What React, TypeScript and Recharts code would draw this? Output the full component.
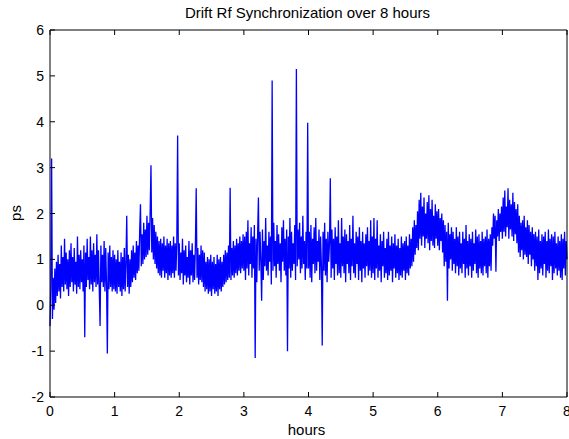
import { LineChart, Line, XAxis, YAxis } from "recharts";

// drift samples, 80 per hour (every 45 s), in ps
const hour0 = [
  -0.45, 0.4, 3.2, -0.3, 0.6, -0.1, 0.8, 0.05, 0.95, 0.2,
  1.1, 0.3, 0.9, 0.15, 1.3, 0.4, 1.05, 0.3, 1.45, 0.45,
  1.15, 0.35, 1.0, 0.2, 1.2, 0.4, 1.35, 0.5, 1.05, 0.3,
  1.25, 0.45, 0.95, 0.25, 1.5, 0.4, 1.1, 0.35, 1.2, 0.5,
  1.0, 0.3, 1.3, -0.7, 1.15, 0.4, 1.45, 0.55, 1.05, 0.35,
  1.5, 0.45, 1.2, 0.3, 1.35, 0.5, 1.1, 0.4, 1.55, 0.45,
  1.2, 0.35, -0.45, 1.3, 0.5, 1.1, 0.4, 1.4, 0.3, 1.25,
  0.45, -1.05, 1.15, 0.35, 1.3, 0.4, 1.05, 0.3, 1.2, 0.35,
];
const hour1 = [
  1.1, 0.3, 1.0, 0.25, 1.2, 0.4, 0.95, 0.3, 1.15, 0.2,
  1.05, 0.35, 1.25, 0.3, 0.9, 1.95, 0.4, 1.1, 0.25, 1.0,
  0.4, 1.2, 0.5, 1.3, 0.6, 1.15, 0.55, 1.4, 0.7, 1.3,
  0.75, 1.6, 2.2, 0.85, 1.55, 0.9, 1.8, 1.0, 1.65, 1.05,
  1.95, 1.1, 1.8, 1.2, 2.05, 3.05, 1.15, 1.9, 1.0, 1.75,
  0.9, 1.6, 0.8, 1.5, 0.7, 1.4, 0.65, 1.45, 0.6, 1.35,
  0.75, 1.5, 0.6, 1.3, 0.7, 1.45, 0.55, 1.35, 0.65, 1.4,
  0.6, 1.3, 0.7, 1.5, 0.6, 1.35, 0.75, 1.4, 3.7, 0.65,
];
const hour2 = [
  1.35, 0.55, 1.15, 0.7, 1.45, 0.45, 1.2, 0.65, 1.3, 0.5,
  1.05, 0.6, 1.4, 0.45, 1.2, 0.65, 1.35, 0.5, 1.1, 0.55,
  1.3, 2.55, 0.6, 1.25, 0.45, 1.1, 0.55, 1.3, 0.5, 1.2,
  0.4, 1.15, 0.3, 0.95, 0.35, 1.05, 0.25, 1.0, 0.3, 1.1,
  0.2, 0.95, 0.35, 1.05, 0.25, 0.9, 0.3, 1.1, 0.2, 1.0,
  0.35, 1.05, 0.3, 0.95, 0.4, 1.1, 0.45, 1.2, 0.5, 1.15,
  0.55, 1.3, 0.6, 2.56, 0.55, 1.25, 0.65, 1.4, 0.6, 1.3,
  0.7, 1.45, 0.65, 1.35, 0.75, 1.5, 0.7, 1.4, 0.8, 1.55,
];
const hour3 = [
  0.75, 1.5, 0.55, 1.6, 0.8, 1.85, 0.65, 1.35, 0.9, 1.7,
  0.6, 1.5, 0.8, 1.75, -1.15, 1.45, 0.5, 1.55, 2.35, 0.75,
  1.6, 0.95, 0.1, 1.65, 0.55, 1.4, 0.85, 1.9, 0.75, 1.3,
  0.65, 1.6, 0.95, 1.5, 0.45, 4.9, 0.75, 1.8, 0.85, 1.4,
  0.6, 1.75, 0.9, 1.55, 0.75, 1.35, 0.5, 1.7, 0.95, 1.85,
  0.75, 1.45, 0.65, 1.65, -1.0, 1.5, 0.8, 1.9, 0.6, 1.6,
  0.75, 1.35, 0.9, 1.75, 0.55, 5.15, 0.85, 1.65, 1.0, 1.8,
  0.7, 1.5, 0.8, 1.95, 0.9, 1.4, 0.55, 1.6, 0.8, 3.98,
];
const hour4 = [
  0.8, 1.6, 0.6, 1.75, 0.5, 1.45, 0.9, 1.7, 0.7, 1.9,
  0.75, 1.4, 0.95, 1.65, 0.55, 1.5, 0.85, -0.88, 1.6, 0.75,
  1.8, 0.65, 1.45, 0.5, 1.6, 0.95, 1.35, 2.77, 0.6, 1.65,
  0.8, 1.45, 0.55, 1.7, 0.9, 1.5, 0.65, 1.85, 0.7, 1.35,
  0.6, 1.9, 0.85, 1.5, 0.7, 1.65, 0.5, 1.55, 0.9, 1.4,
  0.7, 1.75, 0.55, 1.45, 0.85, 1.95, 0.7, 1.35, 0.6, 1.6,
  0.9, 1.5, 0.55, 1.7, 0.75, 1.4, 0.5, 1.6, 0.8, 1.35,
  0.6, 1.55, 0.85, 1.7, 0.65, 1.4, 0.75, 1.85, 0.6, 1.5,
];
const hour5 = [
  0.7, 1.9, 0.55, 1.45, 0.8, 1.85, 0.6, 1.3, 0.75, 1.55,
  0.5, 1.4, 0.85, 1.6, 0.6, 1.25, 0.7, 1.45, 0.55, 1.6,
  0.65, 1.3, 0.75, 1.5, 0.5, 1.35, 0.8, 1.55, 0.6, 1.3,
  0.7, 1.45, 0.55, 1.25, 0.65, 1.5, 0.6, 1.35, 0.75, 1.4,
  0.55, 1.5, 0.7, 1.3, 0.65, 1.55, 0.8, 1.45, 0.85, 1.7,
  0.95, 1.85, 1.1, 1.75, 1.25, 2.05, 1.2, 2.3, 1.45, 2.45,
  1.3, 2.15, 1.5, 2.35, 1.25, 2.0, 1.45, 2.25, 1.35, 2.4,
  1.2, 2.1, 1.4, 2.3, 1.3, 1.95, 1.25, 2.2, 1.45, 2.05,
];
const hour6 = [
  1.3, 2.1, 1.2, 1.9, 1.4, 2.0, 1.15, 1.85, 0.85, 1.75,
  0.95, 1.6, 0.1, 1.8, 0.8, 1.55, 1.0, 1.7, 0.75, 1.6,
  0.9, 1.45, 0.7, 1.7, 0.85, 1.5, 0.65, 1.6, 0.8, 1.35,
  0.7, 1.6, 0.9, 1.45, 0.6, 1.75, 0.8, 1.4, 0.65, 1.55,
  0.85, 1.45, 0.6, 1.6, 0.75, 1.35, 0.9, 1.65, 0.7, 1.5,
  0.6, 1.55, 0.8, 1.4, 0.7, 1.6, 0.65, 1.45, 0.85, 1.5,
  0.7, 1.65, 0.6, 1.45, 0.85, 1.55, 0.75, 1.7, 1.3, 2.0,
  1.45, 1.95, 0.73, 1.85, 1.5, 2.1, 1.4, 2.0, 1.6, 2.15,
];
const hour7 = [
  1.45, 2.35, 1.6, 2.5, 1.5, 2.15, 1.7, 2.55, 1.45, 2.3,
  1.65, 2.2, 1.5, 2.45, 1.4, 2.25, 1.55, 2.1, 1.35, 2.2,
  1.15, 1.95, 1.05, 1.8, 1.2, 1.85, 1.0, 1.95, 1.1, 1.7,
  1.05, 1.85, 0.9, 1.75, 1.1, 1.6, 0.85, 1.7, 1.0, 1.55,
  0.75, 1.6, 0.85, 1.5, 0.55, 1.65, 0.7, 1.4, 0.8, 1.55,
  0.65, 1.5, 0.9, 1.6, 0.6, 1.4, 0.75, 1.65, 0.7, 1.45,
  0.85, 1.55, 0.55, 1.5, 0.7, 1.6, 0.8, 1.35, 0.65, 1.5,
  0.75, 1.4, 0.6, 1.55, 0.55, 1.45, 0.8, 1.6, 0.65, 1.4, 1.0,
];

const SAMPLES_PER_HOUR = 80;
const hourTicks = [0, 1, 2, 3, 4, 5, 6, 7, 8];
const psTicks = [-2, -1, 0, 1, 2, 3, 4, 5, 6];

const signal = [...hour0, ...hour1, ...hour2, ...hour3, ...hour4, ...hour5, ...hour6, ...hour7];
const data = signal.map((ps, i) => ({ t: i / SAMPLES_PER_HOUR, ps }));

const font = "'Liberation Sans', Arial, sans-serif";

// matlab style: ticks point into the plot box
const BottomTick = (props: any) => {
  const { x, y, payload } = props;
  return (
    <g>
      <line x1={x} y1={y} x2={x} y2={y - 5} stroke="#000" />
      <text x={x} y={y + 19} textAnchor="middle" fontSize={14} fontFamily={font} fill="#000">
        {payload.value}
      </text>
    </g>
  );
};

const LeftTick = (props: any) => {
  const { x, y, payload } = props;
  return (
    <g>
      <line x1={x} y1={y} x2={x + 5} y2={y} stroke="#000" />
      <text x={x - 6} y={y + 5} textAnchor="end" fontSize={14} fontFamily={font} fill="#000">
        {payload.value}
      </text>
    </g>
  );
};

const TopTick = (props: any) => {
  const { x, y } = props;
  return <line x1={x} y1={y} x2={x} y2={y + 5} stroke="#000" />;
};

const RightTick = (props: any) => {
  const { x, y } = props;
  return <line x1={x} y1={y} x2={x - 5} y2={y} stroke="#000" />;
};

export default function App() {
  return (
    <div style={{ position: "absolute", left: 0, top: 0, width: 569, height: 439, fontFamily: font, background: "#fff" }}>
      <div style={{ position: "absolute", left: 0, width: 615, top: 5, lineHeight: 1, textAlign: "center", fontSize: 15, color: "#000" }}>
        Drift Rf Synchronization over 8 hours
      </div>
      <div
        style={{
          position: "absolute",
          left: 15,
          top: 213,
          lineHeight: 1,
          fontSize: 15,
          color: "#000",
          transform: "translate(-50%, -50%) rotate(-90deg)",
        }}
      >
        ps
      </div>
      <div style={{ position: "absolute", left: 0, width: 613, top: 422, lineHeight: 1, textAlign: "center", fontSize: 15, color: "#000" }}>
        hours
      </div>
      <LineChart width={569} height={439} data={data} margin={{ top: 29, right: 1, left: 0, bottom: 0 }}>
        <XAxis
          dataKey="t"
          type="number"
          domain={[0, 8]}
          ticks={hourTicks}
          interval={0}
          height={42}
          tickSize={0}
          tickMargin={0}
          tickLine={false}
          tick={<BottomTick />}
          axisLine={{ stroke: "#000" }}
        />
        <XAxis
          xAxisId="top"
          orientation="top"
          dataKey="t"
          type="number"
          domain={[0, 8]}
          ticks={hourTicks}
          interval={0}
          height={1}
          tickSize={0}
          tickMargin={0}
          tickLine={false}
          tick={<TopTick />}
          axisLine={{ stroke: "#000" }}
        />
        <YAxis
          type="number"
          domain={[-2, 6]}
          ticks={psTicks}
          interval={0}
          width={50}
          tickSize={0}
          tickMargin={0}
          tickLine={false}
          tick={<LeftTick />}
          axisLine={{ stroke: "#000" }}
          allowDataOverflow
        />
        <YAxis
          yAxisId="right"
          orientation="right"
          type="number"
          domain={[-2, 6]}
          ticks={psTicks}
          interval={0}
          width={1}
          tickSize={0}
          tickMargin={0}
          tickLine={false}
          tick={<RightTick />}
          axisLine={{ stroke: "#000" }}
        />
        <Line
          type="linear"
          dataKey="ps"
          stroke="#0000ff"
          strokeWidth={1.3}
          dot={false}
          isAnimationActive={false}
        />
      </LineChart>
    </div>
  );
}
